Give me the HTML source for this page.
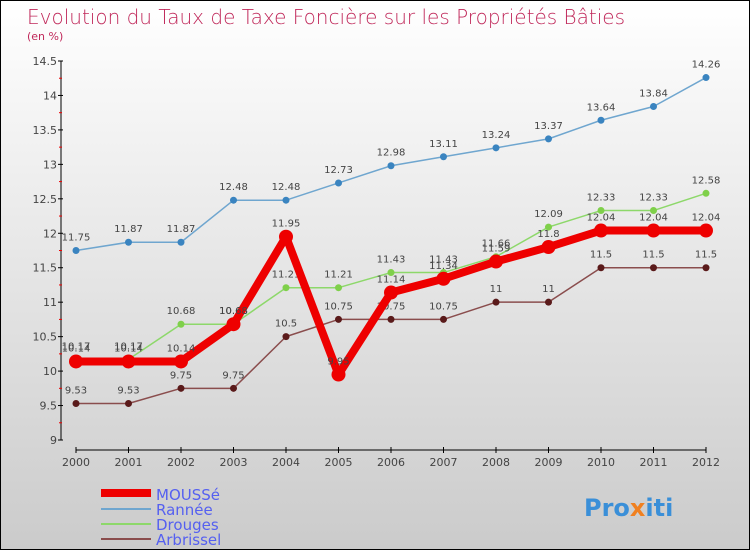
<!DOCTYPE html>
<html><head><meta charset="utf-8"><style>
body{margin:0}
#c{position:relative;width:748px;height:548px;border:1px solid #000;background:linear-gradient(#fff,#cbcbcb);overflow:hidden;font-family:"DejaVu Sans","Liberation Sans",sans-serif}
</style></head><body>
<div id="c">
<svg id="s" width="748" height="548">
<text x="26" y="23" font-size="20" fill="#c0285a" font-weight="200">Evolution du Taux de Taxe Foncière sur les Propriétés Bâties</text>
<text x="26" y="39" font-size="11" fill="#c0285a">(en %)</text>
<g id="axes"></g><g id="series"></g>
<g>
<line x1="100" y1="492" x2="150" y2="492" stroke="#e00" stroke-width="8"/>
<text x="155" y="499" font-size="15" fill="#5560f0">MOUSSé</text>
<line x1="100" y1="508" x2="150" y2="508" stroke="#6fa6cf" stroke-width="2"/>
<text x="155" y="514" font-size="15" fill="#5560f0">Rannée</text>
<line x1="100" y1="523" x2="150" y2="523" stroke="#8dd86a" stroke-width="2"/>
<text x="155" y="529" font-size="15" fill="#5560f0">Drouges</text>
<line x1="100" y1="538" x2="150" y2="538" stroke="#8a4d4d" stroke-width="2"/>
<text x="155" y="544" font-size="15" fill="#5560f0">Arbrissel</text>
</g>
<text x="583" y="515" font-size="24" font-weight="bold" fill="#3a8fd8">Pro<tspan fill="#f08020">x</tspan>iti</text>
</svg>
</div>
<script>
const years=[2000,2001,2002,2003,2004,2005,2006,2007,2008,2009,2010,2011,2012];
const yTicks=[9,9.5,10,10.5,11,11.5,12,12.5,13,13.5,14,14.5];
const mousse=[10.14,10.14,10.14,10.68,11.95,9.95,11.14,11.34,11.59,11.8,12.04,12.04,12.04];
const rannee=[11.75,11.87,11.87,12.48,12.48,12.73,12.98,13.11,13.24,13.37,13.64,13.84,14.26];
const drouges=[10.17,10.17,10.68,10.68,11.21,11.21,11.43,11.43,11.66,12.09,12.33,12.33,12.58];
const arbrissel=[9.53,9.53,9.75,9.75,10.5,10.75,10.75,10.75,11,11,11.5,11.5,11.5];
const NS="http://www.w3.org/2000/svg";
const X=i=>75+i*52.5, Y=v=>439-(v-9)*(379/5.5);
function mk(t,a,p){const e=document.createElementNS(NS,t);for(const k in a)e.setAttribute(k,a[k]);p.appendChild(e);return e;}
const ax=document.getElementById('axes');
let e=mk('line',{x1:60,y1:Y(14.5),x2:60,y2:Y(9),stroke:'#000'},ax);


e=mk('line',{x1:75,y1:449,x2:X(12),y2:449,stroke:'#000'},ax);


yTicks.forEach((v,i)=>{
 mk('line',{x1:57,y1:Y(v),x2:62,y2:Y(v),stroke:'#000'},ax);
 if(i<yTicks.length-1)mk('line',{x1:58,y1:Y(v+0.25),x2:61,y2:Y(v+0.25),stroke:'#e00'},ax);
 const t=mk('text',{x:56,y:Y(v)+4,'font-size':11,fill:'#444','text-anchor':'end'},ax);t.textContent=String(v);
 
 
});
years.forEach((y,i)=>{
 mk('line',{x1:X(i),y1:446,x2:X(i),y2:452,stroke:'#000'},ax);
 const t=mk('text',{x:X(i),y:465,'font-size':11,fill:'#444','text-anchor':'middle'},ax);t.textContent=y;
 
 
});
const sg=document.getElementById('series');
function draw(name,vals,col,dot,w,r){
 const g=mk('g',{},sg);
 
 
 mk('polyline',{points:vals.map((v,i)=>X(i)+','+Y(v)).join(' '),fill:'none',stroke:col,'stroke-width':w,'stroke-linejoin':'round'},g);
 vals.forEach((v,i)=>{
  const c=mk('circle',{cx:X(i),cy:Y(v),r:r,fill:dot},g);
  
  
  const t=mk('text',{x:X(i),y:Y(v)-10,'font-size':10,fill:'#444','text-anchor':'middle'},g);t.textContent=String(v);
  
  
 });
}
draw('arbrissel',arbrissel,'#8a4d4d','#5a1a1a',1.5,3.5);
draw('rannee',rannee,'#6fa6cf','#3a84c0',1.5,3.5);
draw('drouges',drouges,'#8dd86a','#7fd04a',1.5,3.5);
draw('mousse',mousse,'#e00','#e00',8,7);
</script>
</body></html>
